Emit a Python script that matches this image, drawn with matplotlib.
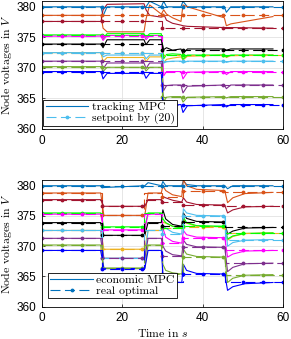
import numpy as np
import matplotlib
matplotlib.use('Agg')
import matplotlib.pyplot as plt
from matplotlib.legend_handler import HandlerTuple

plt.rcParams['mathtext.fontset'] = 'cm'
plt.rcParams['font.family'] = ['Liberation Sans', 'DejaVu Sans']

# node colours (MATLAB order + extra ones)
colors = ['#0072BD', '#D95319', '#A2142F', '#EDB120', '#00FF00', '#FF00FF',
          'k', '#4DBEEE', '#7E2F8E', '#77AC30', '#0000FF']

# ---------------- top: tracking MPC vs setpoint by (20) ----------------
setpoint_before = [380.0, 378.6, 377.6, 372.5, 375.4, 375.2, 373.9, 372.5, 371.1, 370.2, 369.4]
setpoint_after = [380.0, 378.6, 376.5, 372.1, 372.1, 369.4, 373.0, 371.1, 367.2, 365.3, 364.0]
setpoint_switch = 30

top_t = [0, 14.7, 15.2, 16.2, 25.4, 25.9, 26.8, 29.7, 30.3, 31.0, 32.5, 34.6, 35.1, 36.2, 45.4, 45.9, 47.0, 57.5]
top_tracking = [
    [380, 380, 378.5, 380, 380, 380, 380.9, 380, 380.9, 380, 380, 380, 380.9, 380, 380, 379.1, 380, 380],
    [378.6, 378.6, 376.5, 375.9, 375.9, 378.0, 380.3, 378.8, 379.5, 378.8, 378.2, 377.6, 380.3, 380.0, 378.2, 376.9, 377.2, 378.4],
    [377.6, 377.6, 379.5, 380.4, 380.5, 379.5, 378.6, 378.3, 378.8, 377.8, 377.3, 377.0, 376.9, 376.8, 376.6, 376.6, 376.6, 376.5],
    [372.5, 372.5, 371.0, 371.7, 371.7, 371.0, 371.8, 371.8, 370.8, 371.4, 371.6, 371.8, 371.3, 371.9, 372.1, 371.7, 372.0, 372.1],
    [375.4, 375.4, 374.8, 375.6, 375.6, 375.0, 375.6, 375.6, 371.5, 372.2, 372.3, 372.2, 371.4, 372.1, 372.1, 371.8, 372.1, 372.1],
    [375.2, 375.2, 374.5, 375.3, 375.3, 374.6, 375.3, 375.3, 368.7, 369.4, 369.4, 369.4, 368.2, 369.3, 369.4, 368.9, 369.4, 369.4],
    [373.9, 373.9, 373.3, 374.6, 374.6, 373.8, 374.6, 374.6, 373.0, 373.3, 372.9, 373.1, 372.3, 373.1, 373.1, 372.9, 373.1, 373.1],
    [372.5, 372.5, 371.8, 372.1, 372.1, 371.5, 372.1, 372.1, 370.8, 371.0, 371.1, 371.1, 370.8, 371.1, 371.1, 370.9, 371.1, 371.1],
    [371.1, 371.1, 369.8, 370.8, 370.8, 369.9, 370.8, 370.8, 366.3, 367.1, 367.2, 367.2, 365.9, 367.0, 367.2, 366.6, 367.2, 367.2],
    [370.2, 370.2, 369.4, 370.1, 370.1, 369.5, 370.1, 370.1, 364.5, 365.2, 365.3, 365.3, 364.4, 365.2, 365.3, 365.1, 365.3, 365.3],
    [369.4, 369.4, 368.2, 369.1, 369.1, 368.3, 369.1, 369.1, 362.6, 363.8, 363.9, 364.0, 362.7, 363.8, 364.0, 363.6, 364.0, 364.0],
]

# ---------------- bottom: economic MPC vs real optimal ----------------
optimal_edges = [0, 15, 25.5, 30, 35, 45.5, 60]
real_optimal = [
    [380.0, 380.0, 380.0, 380.0, 380.0, 380.0],
    [378.8, 375.1, 378.8, 378.2, 379.2, 378.9],
    [377.7, 376.6, 377.7, 377.3, 376.8, 376.6],
    [372.6, 369.5, 372.6, 373.0, 373.2, 372.2],
    [375.5, 373.2, 375.5, 373.0, 373.3, 372.2],
    [375.3, 372.7, 375.3, 370.5, 371.4, 369.3],
    [373.9, 371.8, 373.9, 373.3, 374.0, 373.1],
    [372.6, 368.0, 372.6, 372.0, 375.0, 371.1],
    [371.3, 368.0, 371.3, 368.4, 369.8, 367.2],
    [370.2, 366.4, 370.2, 365.4, 368.2, 365.3],
    [369.3, 366.3, 369.3, 364.0, 365.4, 364.0],
]

bot_t = [0, 14.6, 15.4, 25.6, 26.4, 29.7, 30.1, 30.8, 32.5, 34.8, 35.2, 36.0, 38.5, 45.5, 46.2, 47.5, 50.5, 57.5]
economic = [
    [380, 380, 379.7, 380, 380.5, 380, 380.7, 380, 380, 380, 380.8, 380.2, 380, 380, 379.5, 380, 380, 380],
    [378.8, 378.8, 375.1, 375.1, 378.8, 378.8, 380.0, 379.2, 378.5, 378.2, 381.0, 380.0, 379.4, 379.2, 377.2, 378.0, 378.7, 378.9],
    [377.7, 377.7, 376.6, 376.6, 377.7, 377.7, 378.2, 378.0, 377.6, 377.3, 378.0, 377.3, 376.9, 376.8, 375.5, 376.0, 376.5, 376.6],
    [372.6, 372.6, 369.5, 369.5, 372.6, 372.6, 374.0, 373.8, 373.3, 373.0, 374.5, 373.8, 373.3, 373.2, 371.0, 371.6, 372.1, 372.2],
    [375.5, 375.5, 373.2, 373.2, 375.5, 375.5, 374.5, 373.9, 373.3, 373.0, 374.8, 373.9, 373.4, 373.3, 371.2, 371.7, 372.1, 372.2],
    [375.3, 375.3, 372.7, 372.7, 375.3, 375.3, 373.0, 371.5, 370.8, 370.5, 372.6, 371.9, 371.5, 371.4, 368.2, 368.7, 369.2, 369.3],
    [373.9, 373.9, 371.8, 371.8, 373.9, 373.9, 376.0, 374.5, 373.6, 373.3, 375.5, 374.6, 374.1, 374.0, 372.0, 372.5, 373.0, 373.1],
    [372.6, 372.6, 368.0, 368.0, 372.6, 372.6, 373.5, 373.0, 372.3, 372.0, 376.2, 375.5, 375.1, 375.0, 370.0, 370.6, 371.0, 371.1],
    [371.3, 371.3, 368.0, 368.0, 371.3, 371.3, 370.0, 369.2, 368.6, 368.4, 371.0, 370.3, 369.9, 369.8, 365.8, 366.5, 367.1, 367.2],
    [370.2, 370.2, 366.4, 366.4, 370.2, 370.2, 367.0, 366.0, 365.6, 365.4, 369.5, 368.7, 368.3, 368.2, 364.0, 364.7, 365.2, 365.3],
    [369.3, 369.3, 366.3, 366.3, 369.3, 369.3, 365.5, 364.6, 364.1, 364.0, 367.0, 366.0, 365.5, 365.4, 362.7, 363.3, 363.8, 364.0],
]

marker_t = np.arange(0, 61, 5)

cm_font = {'family': 'cmr10', 'size': 8.5}


def style_axes(ax):
    ax.set_xlim(0, 60)
    ax.set_ylim(360, 381)
    ax.set_xticks([0, 20, 40, 60])
    ax.set_yticks([360, 365, 370, 375, 380])
    ax.grid(True, color='#e2e2e2', linewidth=0.6)
    ax.set_axisbelow(True)
    ax.tick_params(direction='in', length=2, width=0.5, labelsize=8.5, pad=4)
    for s in ax.spines.values():
        s.set_linewidth(0.6)
    ax.set_ylabel(r'Node voltages in $V$', family='cmr10', fontsize=8.5, labelpad=2)


def dashed(ax, edges, values, color):
    # step line + dot markers every 5 s
    xs = np.array(edges)
    ys = np.append(values, values[-1])
    line, = ax.plot(xs, ys, drawstyle='steps-post', color=color, lw=0.8,
                    dashes=(9, 4))
    idx = np.clip(np.searchsorted(edges, marker_t, side='right') - 1, 0, len(values) - 1)
    dots, = ax.plot(marker_t, np.array(values)[idx], '.', color=color, ms=3.5)
    return (line, dots)


def add_legend(ax, handles, labels, anchor):
    leg = ax.legend(handles, labels, loc='lower left', bbox_to_anchor=anchor,
                    prop=cm_font, handlelength=3.6, handletextpad=0.3,
                    fancybox=False, edgecolor='k', framealpha=1,
                    borderaxespad=0, borderpad=0.2, labelspacing=0.02,
                    numpoints=1, handler_map={tuple: HandlerTuple(ndivide=1)})
    leg.get_frame().set_linewidth(0.6)


fig = plt.figure(figsize=(2.91, 3.39), dpi=100)
ax1 = fig.add_axes([0.1443, 0.6195, 0.8282, 0.3785])
ax2 = fig.add_axes([0.1443, 0.0953, 0.8282, 0.3747])

# top subplot
solid_lines = []
for i, c in enumerate(colors):
    l, = ax1.plot(top_t, top_tracking[i], color=c, lw=0.8)
    solid_lines.append(l)
dash_lines = []
for i, c in enumerate(colors):
    dash_lines.append(dashed(ax1, [0, setpoint_switch, 60],
                             [setpoint_before[i], setpoint_after[i]], c))
style_axes(ax1)
add_legend(ax1, [solid_lines[0], dash_lines[7]],
           ['tracking MPC', 'setpoint by (20)'], (0.006, 0.02))

# bottom subplot
solid_lines = []
for i, c in enumerate(colors):
    l, = ax2.plot(bot_t, economic[i], color=c, lw=0.8)
    solid_lines.append(l)
dash_lines = []
for i, c in enumerate(colors):
    dash_lines.append(dashed(ax2, optimal_edges, real_optimal[i], c))
style_axes(ax2)
ax2.set_xlabel(r'Time in $s$', family='cmr10', fontsize=8.5, labelpad=2)
add_legend(ax2, [solid_lines[0], dash_lines[0]],
           ['economic MPC', 'real optimal'], (0.025, 0.066))

fig.savefig('out.png', dpi=100)
